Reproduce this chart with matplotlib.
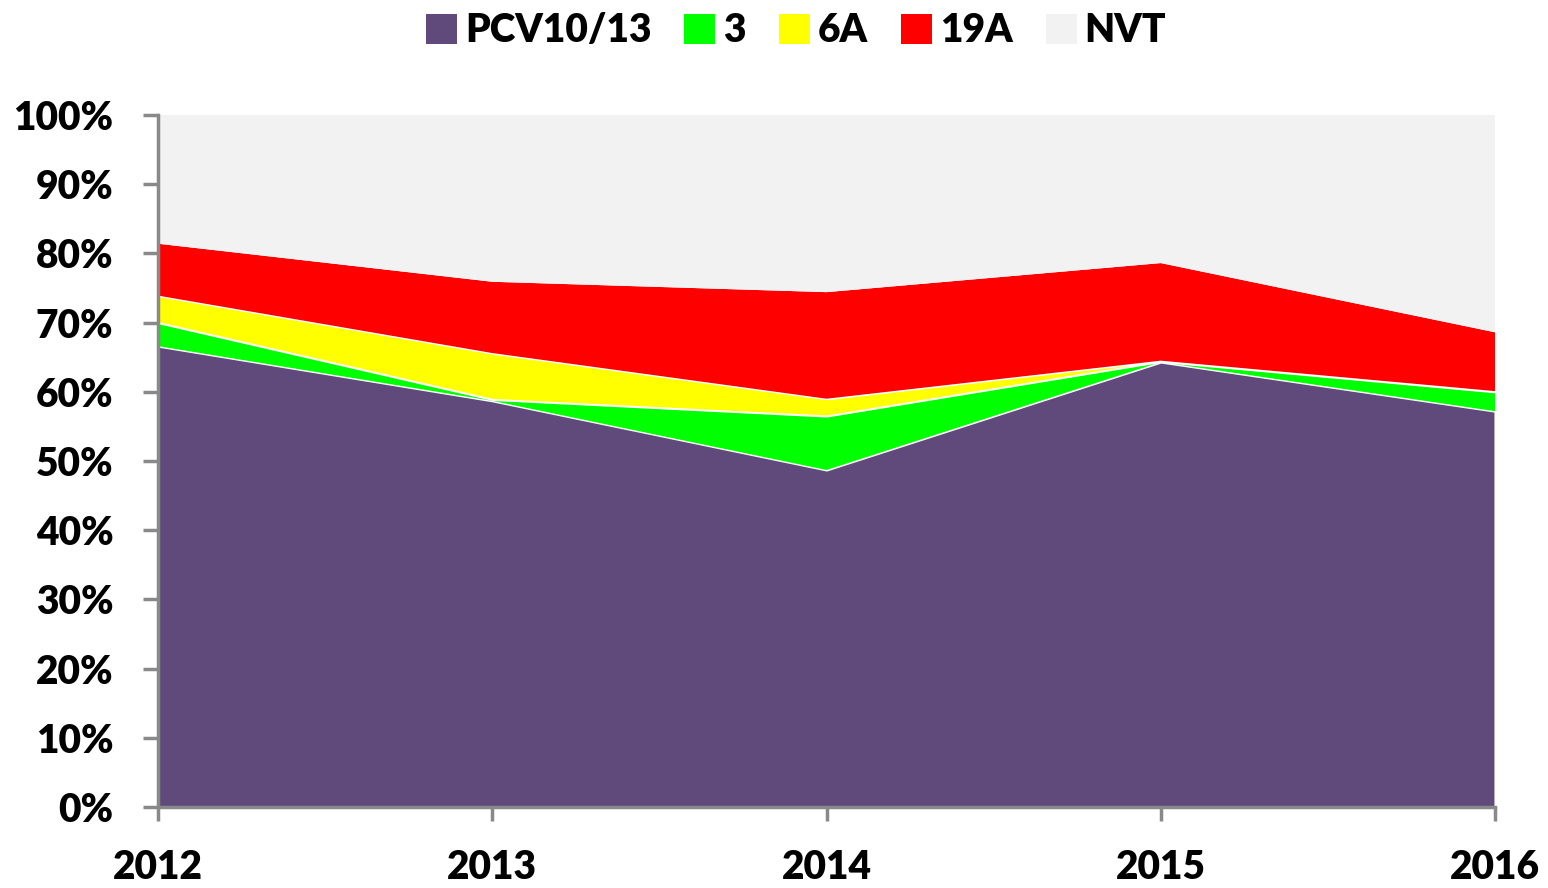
import matplotlib.pyplot as plt
from matplotlib.patches import Patch
from matplotlib.ticker import FuncFormatter

# serotype shares per year (percent)
years = [2012, 2013, 2014, 2015, 2016]
pcv = [66.6, 58.7, 48.7, 64.3, 57.2]
st3 = [3.4, 0.2, 7.8, 0.1, 2.8]
st6a = [3.9, 6.7, 2.5, 0.1, 0.1]
st19a = [7.5, 10.3, 15.4, 14.1, 8.5]
nvt = [18.6, 24.1, 25.6, 21.4, 31.4]

labels = ['PCV10/13', '3', '6A', '19A', 'NVT']
colors = ['#604A7B', '#00FF00', '#FFFF00', '#FF0000', '#F2F2F2']

plt.rcParams['font.family'] = ['Lato', 'DejaVu Sans']
plt.rcParams['font.weight'] = 'heavy'
FS = 28

fig = plt.figure(figsize=(15.48, 8.88), dpi=100)
ax = fig.add_axes([158/1548, 1 - 807/888, (1495 - 158)/1548, (807 - 115)/888])

polys = ax.stackplot(years, pcv, st3, st6a, st19a, nvt, colors=colors, linewidth=0)
# thin white borders on PCV and 6A, as in the original
for i in (0, 2):
    polys[i].set_edgecolor('white')
    polys[i].set_linewidth(1.5)

ax.set_xlim(2012, 2016)
ax.set_ylim(0, 100)
ax.set_xticks(years)
ax.set_yticks(range(0, 101, 10))
ax.yaxis.set_major_formatter(FuncFormatter(lambda v, p: '%d%%' % v))

for s in ['top', 'right']:
    ax.spines[s].set_visible(False)
for s in ['left', 'bottom']:
    ax.spines[s].set_color('#898989')
    ax.spines[s].set_linewidth(2.5)
    ax.spines[s].set_zorder(5)
ax.tick_params(axis='y', length=11, width=2.5, color='#898989', pad=21, labelsize=FS)
ax.tick_params(axis='x', length=10, width=2.5, color='#898989', pad=20, labelsize=FS)
for t in ax.get_xticklabels() + ax.get_yticklabels():
    t.set_fontweight('heavy')

handles = [Patch(facecolor=c, edgecolor='none') for c in colors]
fig.legend(handles, labels, loc='upper center', bbox_to_anchor=(796/1548, 0.995), ncol=5,
           frameon=False, prop={'weight': 'heavy', 'size': FS},
           handlelength=0.8, handleheight=0.8, handletextpad=0.2, columnspacing=0.85,
           borderaxespad=0.0, borderpad=0.2)

fig.savefig('out.png', dpi=100)
